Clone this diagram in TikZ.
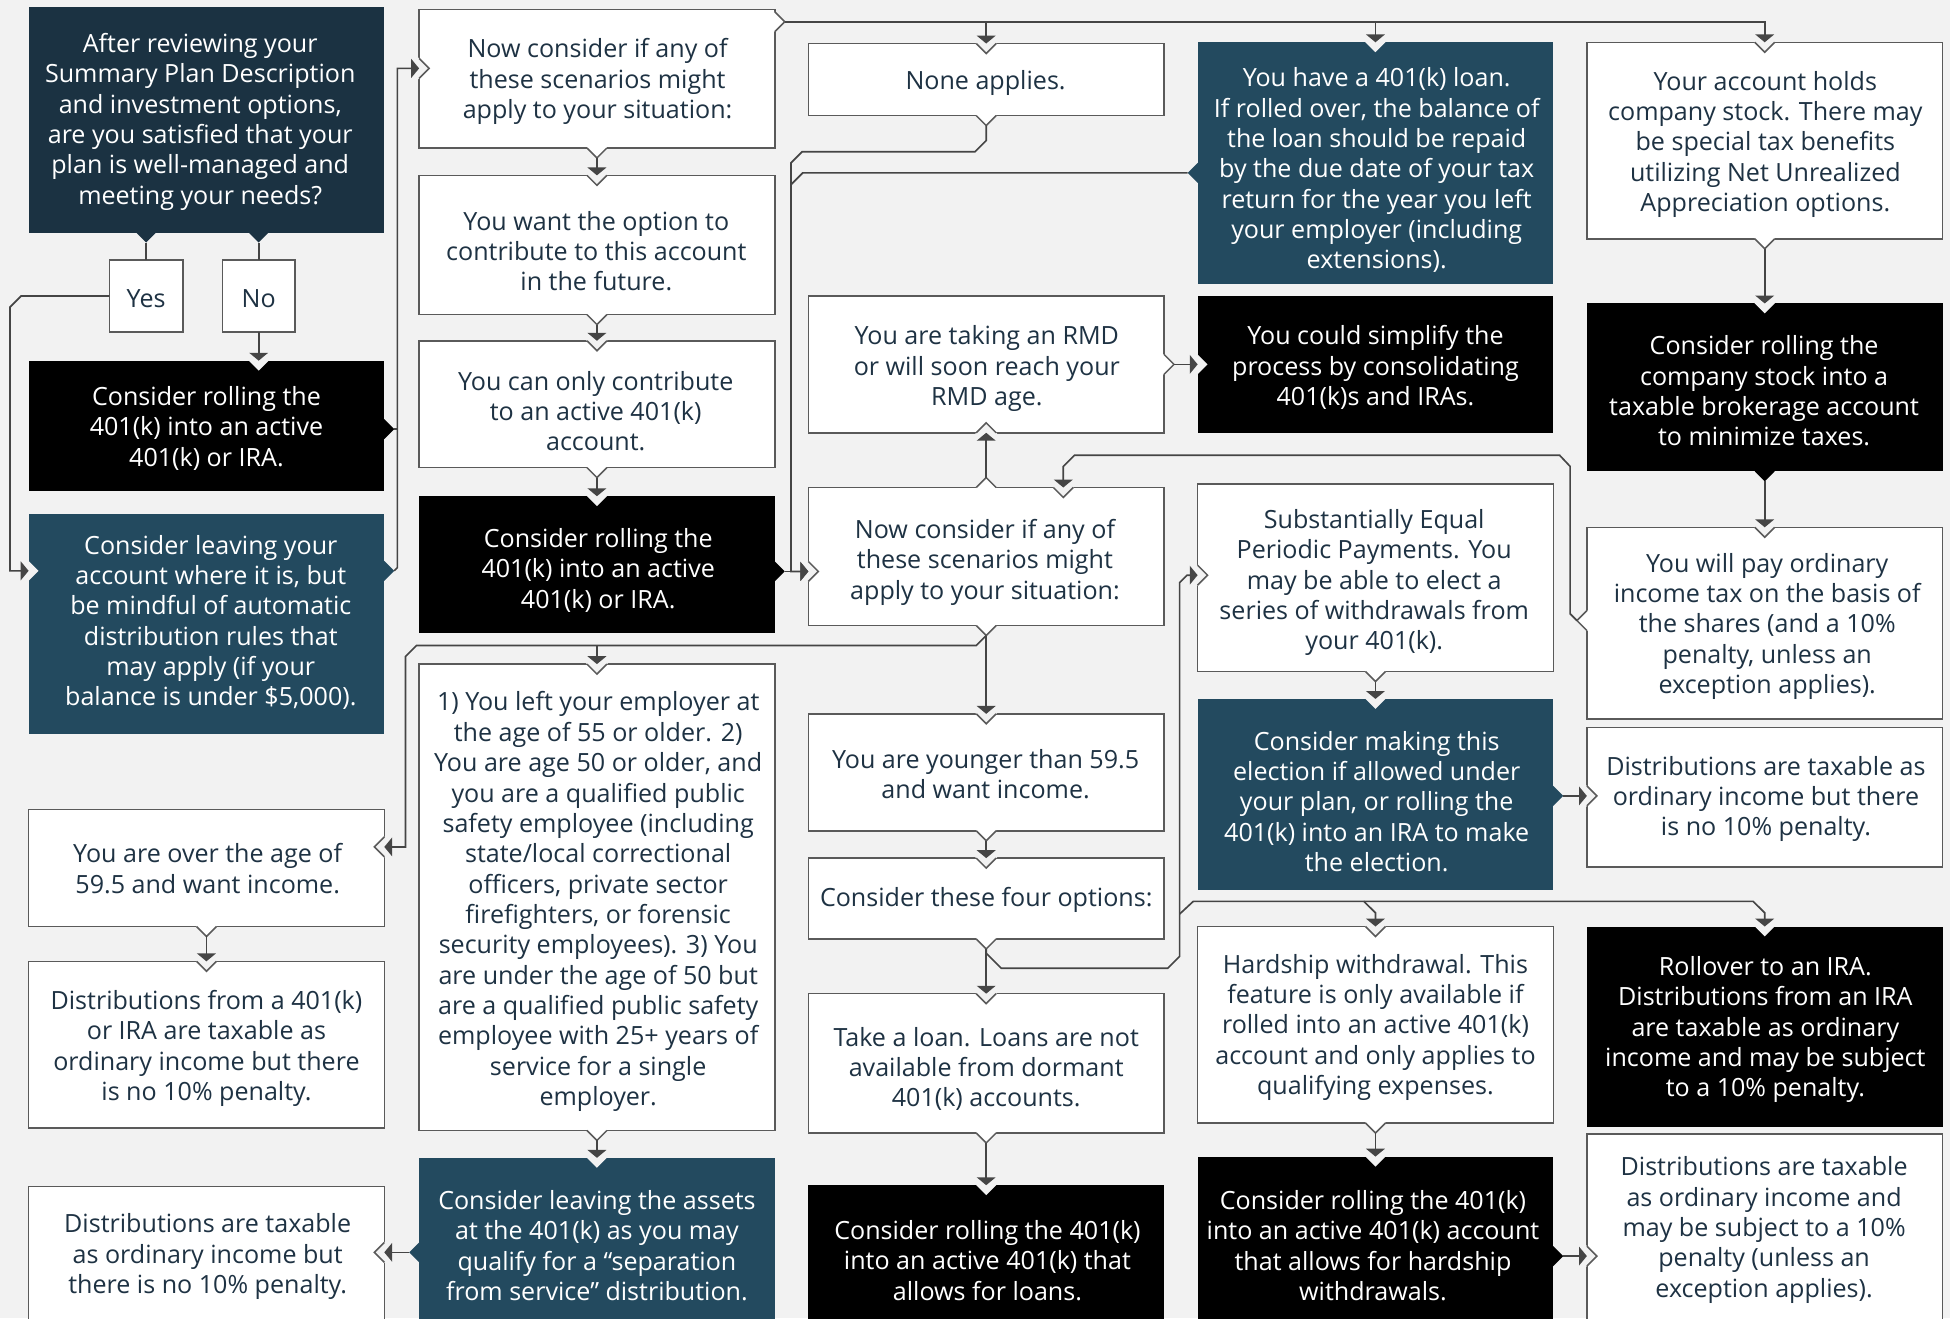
\documentclass[tikz,border=0pt]{standalone}
\usepackage{fontspec}
\setmainfont{Open Sans}
\usetikzlibrary{arrows.meta,calc}
\definecolor{bgc}{HTML}{F2F2F2}
\definecolor{ndark}{HTML}{1B3242}
\definecolor{nmid}{HTML}{234A5F}
\definecolor{bord}{HTML}{5A5A5A}
\definecolor{conc}{HTML}{454545}
\definecolor{tnavy}{HTML}{1E3243}
\tikzset{
 box/.style={inner sep=0pt, outer sep=0pt, rectangle},
 wbox/.style={box, fill=white, draw=bord, line width=0.75pt},
 kbox/.style={box, fill=black},
 nbox/.style={box, fill=nmid},
 dbox/.style={box, fill=ndark},
 txt/.style={inner sep=0pt, align=center, font=\fontsize{12.1pt}{14.64pt}\selectfont},
 wt/.style={txt, text=tnavy},
 kt/.style={txt, text=white},
 conn/.style={draw=conc, line width=0.8pt},
 arr/.style={conn, -{Triangle[width=9pt,length=3.8pt]}},
 bd/.style={draw=bord, line width=0.75pt},
 nobd/.style={draw=none},
}
\newcommand\bx[9]{%
 \node[#6, minimum width={(#4-#2)*0.6pt}, minimum height={(#5-#3)*0.6pt}] (#1) at ({(#2+#4)/2},{(#3+#5)/2}) {};
 \node[#7] (#1t) at ($(#8)+(0,2)$) {#9};}
\newcommand\vin[3]{%
 \begin{scope}[shift={(#1)},rotate=#2]
 \fill[bgc] (-9.4,-1.4) -- (9.4,-1.4) -- (0,8) -- cycle;
 \draw[#3, line join=miter] (-8,0) -- (0,8) -- (8,0);
 \end{scope}}
\newcommand\vout[4]{%
 \begin{scope}[shift={(#1)},rotate=#2]
 \fill[#3] (-8,-1.4) -- (8,-1.4) -- (8,0) -- (0,8) -- (-8,0) -- cycle;
 \draw[#4, line join=miter] (-8,0) -- (0,8) -- (8,0);
 \coordinate (#1tip) at (0,8);
 \end{scope}}
\begin{document}
\begin{tikzpicture}[x=0.6pt,y=-0.6pt]
\useasboundingbox (0,0) rectangle (1568,1060);
\clip (0,0) rectangle (1568,1060);
\fill[bgc] (0,0) rectangle (1568,1060);
% ---- boxes
\bx{B1}{23}{6}{309}{187}{dbox}{kt}{161,96}{After reviewing your\\Summary Plan Description\\and investment options,\\are you satisfied that your\\plan is well-managed and\\meeting your needs?}
\bx{Yes}{88}{209}{147}{267}{wbox}{wt}{117.5,238}{Yes}
\bx{No}{179}{209}{237}{267}{wbox}{wt}{208,238}{No}
\bx{B2}{23}{290}{309}{395}{kbox}{kt}{166,342.5}{Consider rolling the\\401(k) into an active\\401(k) or IRA.}
\bx{B3}{23}{413}{309}{590}{nbox}{kt}{169.5,498.5}{Consider leaving your\\account where it is, but\\be mindful of automatic\\distribution rules that\\may apply (if your\\balance is under \$5,000).}
\bx{B4}{23}{651}{309}{745}{wbox}{wt}{167,696.5}{You are over the age of\\59.5 and want income.}
\bx{B5}{23}{773}{309}{907}{wbox}{wt}{166,841}{Distributions from a 401(k)\\or IRA are taxable as\\ordinary income but there\\is no 10\% penalty.}
\bx{B6}{23}{954}{309}{1064}{wbox}{wt}{167,1008.5}{Distributions are taxable\\as ordinary income but\\there is no 10\% penalty.}
\bx{C1}{337}{7.5}{623}{119}{wbox}{wt}{480.5,63.5}{Now consider if any of\\these scenarios might\\apply to your situation:}
\bx{C2}{337}{141}{623}{253}{wbox}{wt}{479.5,200}{You want the option to\\contribute to this account\\in the future.}
\bx{C3}{337}{274}{623}{376}{wbox}{wt}{479,328.5}{You can only contribute\\to an active 401(k)\\account.}
\bx{C4}{337}{399}{623}{509}{kbox}{kt}{481,456.5}{Consider rolling the\\401(k) into an active\\401(k) or IRA.}
\bx{C5}{337}{534}{623}{909}{wbox}{wt}{481,723}{1) You left your employer at\\the age of 55 or older. 2)\\You are age 50 or older, and\\you are a qualified public\\safety employee (including\\state/local correctional\\officers, private sector\\firefighters, or forensic\\security employees). 3) You\\are under the age of 50 but\\are a qualified public safety\\employee with 25+ years of\\service for a single\\employer.}
\bx{C6}{337}{931}{623}{1068}{nbox}{kt}{480,999.5}{Consider leaving the assets\\at the 401(k) as you may\\qualify for a “separation\\from service” distribution.}
\bx{D1}{650}{35}{936}{93}{wbox}{wt}{792.5,65}{None applies.}
\bx{D2}{650}{238}{936}{348}{wbox}{wt}{793.5,294.5}{You are taking an RMD\\or will soon reach your\\RMD age.}
\bx{D3}{650}{392}{936}{503}{wbox}{wt}{792,450}{Now consider if any of\\these scenarios might\\apply to your situation:}
\bx{D4}{650}{574}{936}{668}{wbox}{wt}{792.5,620.5}{You are younger than 59.5\\and want income.}
\bx{D5}{650}{690}{936}{755}{wbox}{wt}{793,722}{Consider these four options:}
\bx{D6}{650}{799}{936}{911}{wbox}{wt}{793,857.5}{Take a loan. Loans are not\\available from dormant\\401(k) accounts.}
\bx{D7}{650}{953}{936}{1070}{kbox}{kt}{794,1011.5}{Consider rolling the 401(k)\\into an active 401(k) that\\allows for loans.}
\bx{E1}{963}{34}{1249}{228}{nbox}{kt}{1107,135}{You have a 401(k) loan.\\If rolled over, the balance of\\the loan should be repaid\\by the due date of your tax\\return for the year you left\\your employer (including\\extensions).}
\bx{E2}{963}{238}{1249}{348}{kbox}{kt}{1106,293.5}{You could simplify the\\process by consolidating\\401(k)s and IRAs.}
\bx{E3}{963}{389}{1249}{540}{wbox}{wt}{1105,466.5}{Substantially Equal\\Periodic Payments. You\\may be able to elect a\\series of withdrawals from\\your 401(k).}
\bx{E4}{963}{562}{1249}{716}{nbox}{kt}{1107,642.5}{Consider making this\\election if allowed under\\your plan, or rolling the\\401(k) into an IRA to make\\the election.}
\bx{E5}{963}{745}{1249}{903}{wbox}{wt}{1106,824}{Hardship withdrawal. This\\feature is only available if\\rolled into an active 401(k)\\account and only applies to\\qualifying expenses.}
\bx{E6}{963}{930}{1249}{1069}{kbox}{kt}{1104,999.5}{Consider rolling the 401(k)\\into an active 401(k) account\\that allows for hardship\\withdrawals.}
\bx{F1}{1276}{34}{1562}{192}{wbox}{wt}{1419.5,114}{Your account holds\\company stock. There may\\be special tax benefits\\utilizing Net Unrealized\\Appreciation options.}
\bx{F2}{1276}{244}{1562}{379}{kbox}{kt}{1418.5,312.5}{Consider rolling the\\company stock into a\\taxable brokerage account\\to minimize taxes.}
\bx{F3}{1276}{424}{1562}{578}{wbox}{wt}{1421,501.5}{You will pay ordinary\\income tax on the basis of\\the shares (and a 10\%\\penalty, unless an\\exception applies).}
\bx{F4}{1276}{585}{1562}{697}{wbox}{wt}{1420,640.5}{Distributions are taxable as\\ordinary income but there\\is no 10\% penalty.}
\bx{F5}{1276}{745}{1562}{906}{kbox}{kt}{1419.5,826}{Rollover to an IRA.\\Distributions from an IRA\\are taxable as ordinary\\income and may be subject\\to a 10\% penalty.}
\bx{F6}{1276}{912}{1562}{1062}{wbox}{wt}{1418.5,987}{Distributions are taxable\\as ordinary income and\\may be subject to a 10\%\\penalty (unless an\\exception applies).}
% ---- exit ports
\coordinate (pB1a) at (Yes |- B1.south);
\coordinate (pB1b) at (No |- B1.south);
\coordinate (pB2e) at ($(B2.north east)+(0,55)$);
\coordinate (pB3e) at ($(B3.north east)+(0,46)$);
\coordinate (pB4s) at (B4.south);
\coordinate (pC1e) at ($(C1.north east)+(0,10)$);
\coordinate (pC1s) at (C1.south);
\coordinate (pC2s) at (C2.south);
\coordinate (pC3s) at (C3.south);
\coordinate (pC4e) at ($(C4.north east)+(0,60.5)$);
\coordinate (pC5s) at (C5.south);
\coordinate (pC6w) at ($(C6.north west)+(0,76)$);
\coordinate (pD1s) at (D1.south);
\coordinate (pD2e) at (D2.east);
\coordinate (pD3n) at (D3.north);
\coordinate (pD3s) at (D3.south);
\coordinate (pD4s) at (D4.south);
\coordinate (pD5s) at (D5.south);
\coordinate (pD6s) at (D6.south);
\coordinate (pE1w) at ($(E1.north west)+(0,105)$);
\coordinate (pE3s) at (E3.south);
\coordinate (pE4e) at ($(E4.north east)+(0,78)$);
\coordinate (pE5s) at (E5.south);
\coordinate (pE6e) at ($(E6.north east)+(0,80)$);
\coordinate (pF1s) at (F1.south);
\coordinate (pF2s) at (F2.south);
\coordinate (pF3w) at ($(F3.north west)+(0,75)$);
% ---- entry ports
\coordinate (qB2n) at (No |- B2.north);
\coordinate (qB3w) at ($(B3.north west)+(0,46)$);
\coordinate (qB4e) at ($(B4.north east)+(0,30)$);
\coordinate (qB5n) at (B5.north);
\coordinate (qB6e) at ($(B6.north east)+(0,53)$);
\coordinate (qC1w) at ($(C1.north west)+(0,47.5)$);
\coordinate (qC2n) at (C2.north);
\coordinate (qC3n) at (C3.north);
\coordinate (qC4n) at (C4.north);
\coordinate (qC5n) at (C5.north);
\coordinate (qC6n) at (C6.north);
\coordinate (qD1n) at (D1.north);
\coordinate (qD2s) at (D2.south);
\coordinate (qD3w) at ($(D3.north west)+(0,67.5)$);
\coordinate (qD3n) at ($(D3.north west)+(205,0)$);
\coordinate (qD4n) at (D4.north);
\coordinate (qD5n) at (D5.north);
\coordinate (qD6n) at (D6.north);
\coordinate (qD7n) at (D7.north);
\coordinate (qE1n) at (E1.north);
\coordinate (qE2w) at (E2.west);
\coordinate (qE3w) at ($(E3.north west)+(0,73.5)$);
\coordinate (qE4n) at (E4.north);
\coordinate (qE5n) at (E5.north);
\coordinate (qE6n) at (E6.north);
\coordinate (qF1n) at (F1.north);
\coordinate (qF2n) at (F2.north);
\coordinate (qF3n) at (F3.north);
\coordinate (qF4w) at (F4.west |- pE4e);
\coordinate (qF5n) at (F5.north);
\coordinate (qF6w) at (F6.west |- pE6e);
% ---- protrusions
\vout{pB1a}{0}{ndark}{nobd}
\vout{pB1b}{0}{ndark}{nobd}
\vout{pB2e}{90}{black}{nobd}
\vout{pB3e}{90}{nmid}{nobd}
\vout{pB4s}{0}{white}{bd}
\vout{pC1e}{90}{white}{bd}
\vout{pC1s}{0}{white}{bd}
\vout{pC2s}{0}{white}{bd}
\vout{pC3s}{0}{white}{bd}
\vout{pC4e}{90}{black}{nobd}
\vout{pC5s}{0}{white}{bd}
\vout{pC6w}{-90}{nmid}{nobd}
\vout{pD1s}{0}{white}{bd}
\vout{pD2e}{90}{white}{bd}
\vout{pD3n}{180}{white}{bd}
\vout{pD3s}{0}{white}{bd}
\vout{pD4s}{0}{white}{bd}
\vout{pD5s}{0}{white}{bd}
\vout{pD6s}{0}{white}{bd}
\vout{pE1w}{-90}{nmid}{nobd}
\vout{pE3s}{0}{white}{bd}
\vout{pE4e}{90}{nmid}{nobd}
\vout{pE5s}{0}{white}{bd}
\vout{pE6e}{90}{black}{nobd}
\vout{pF1s}{0}{white}{bd}
\vout{pF2s}{0}{black}{nobd}
\vout{pF3w}{-90}{white}{bd}
% ---- notches
\vin{qB2n}{0}{nobd}
\vin{qB3w}{90}{nobd}
\vin{qB4e}{-90}{bd}
\vin{qB5n}{0}{bd}
\vin{qB6e}{-90}{bd}
\vin{qC1w}{90}{bd}
\vin{qC2n}{0}{bd}
\vin{qC3n}{0}{bd}
\vin{qC4n}{0}{nobd}
\vin{qC5n}{0}{bd}
\vin{qC6n}{0}{nobd}
\vin{qD1n}{0}{bd}
\vin{qD2s}{180}{bd}
\vin{qD3w}{90}{bd}
\vin{qD3n}{0}{bd}
\vin{qD4n}{0}{bd}
\vin{qD5n}{0}{bd}
\vin{qD6n}{0}{bd}
\vin{qD7n}{0}{nobd}
\vin{qE1n}{0}{nobd}
\vin{qE2w}{90}{nobd}
\vin{qE3w}{90}{bd}
\vin{qE4n}{0}{nobd}
\vin{qE5n}{0}{bd}
\vin{qE6n}{0}{nobd}
\vin{qF1n}{0}{bd}
\vin{qF2n}{0}{nobd}
\vin{qF3n}{0}{bd}
\vin{qF4w}{90}{bd}
\vin{qF5n}{0}{nobd}
\vin{qF6w}{90}{bd}
% ---- connectors
\draw[conn] (pB1atip) -- (Yes.north);
\draw[conn] (pB1btip) -- (No.north);
\draw[arr] (No.south) -- (qB2n);
\draw[arr] (Yes.west) -- ($(Yes.west -| B1.west)+(-6,0)$) -- ($(Yes.west -| B1.west)+(-15,9)$) -- ($(qB3w)+(-15,0)$) -- (qB3w);
\draw[conn] (pB2etip) -- ++(3,0);
\draw[arr] (pB3etip) -- ++(2.5,-2.5) |- (qC1w);
\draw[arr] (pC1stip) -- (qC2n);
\draw[arr] (pC2stip) -- (qC3n);
\draw[arr] (pC3stip) -- (qC4n);
\draw[arr] (pC1etip) -| (qF1n);
\draw[arr] (pC1etip -| qD1n) -- (qD1n);
\draw[arr] (pC1etip -| qE1n) -- (qE1n);
\draw[arr] (pD1stip) -- ++(0,12) -- ++(-9,9) -- ++(-139,0) -- ++(-9,9) |- (qD3w);
\draw[conn] (pE1wtip) -- ++(-309.5,0) -- ++(-9.5,9.5);
\draw[arr] (pC4etip) -- (qD3w);
\draw[arr] (pD3ntip) -- (qD2s);
\draw[arr] (pD2etip) -- (qE2w);
\draw[arr] (pF3wtip) -- ++(-5.5,-5.5) -- ++(0,-118.5) -- ++(-8.5,-9) -- ($(qD3n)+(9,-26)$) -- ($(qD3n)+(0,-17)$) -- (qD3n);
\draw[arr] (pD3stip) -- (qD4n);
\draw[arr] (pD3stip) -- ++(-8,8) -- ($(qB4e)+(26,-162)$) -- ++(-9,9) |- (qB4e);
\coordinate (h519) at ($(pD3stip)+(0,8)$);
\draw[arr] (qC5n |- h519) -- (qC5n);
\draw[arr] (pD4stip) -- (qD5n);
\draw[arr] (pD5stip) -- (qD6n);
\draw[arr] (pD5stip) -- ++(0,3.5) -- ++(12,12) -- ($(qE3w)+(-24,316)$) -- ($(qE3w)+(-14.5,306.5)$) -- ($(qE3w)+(-14.5,6)$) -- ($(qE3w)+(-8.5,0)$) -- (qE3w);
\draw[arr] ($(qE5n)+(-157.5,-10)$) -- ($(qE5n)+(-146.5,-20.2)$) -- ($(qE5n)+(-9.3,-20.2)$) -- ($(qE5n)+(0,-11)$) -- (qE5n);
\draw[arr] ($(qE5n)+(-9.3,-20.2)$) -- ($(qF5n)+(-9.3,-20.2)$) -- ($(qF5n)+(0,-11)$) -- (qF5n);
\draw[arr] (pD6stip) -- (qD7n);
\draw[arr] (pE3stip) -- (qE4n);
\draw[arr] (pE4etip) -- (qF4w);
\draw[arr] (pE5stip) -- (qE6n);
\draw[arr] (pE6etip) -- (qF6w);
\draw[arr] (pF1stip) -- (qF2n);
\draw[arr] (pF2stip) -- (qF3n);
\draw[arr] (pB4stip) -- (qB5n);
\draw[arr] (pC5stip) -- (qC6n);
\draw[arr] (pC6wtip) -- (qB6e);
\end{tikzpicture}
\end{document}
